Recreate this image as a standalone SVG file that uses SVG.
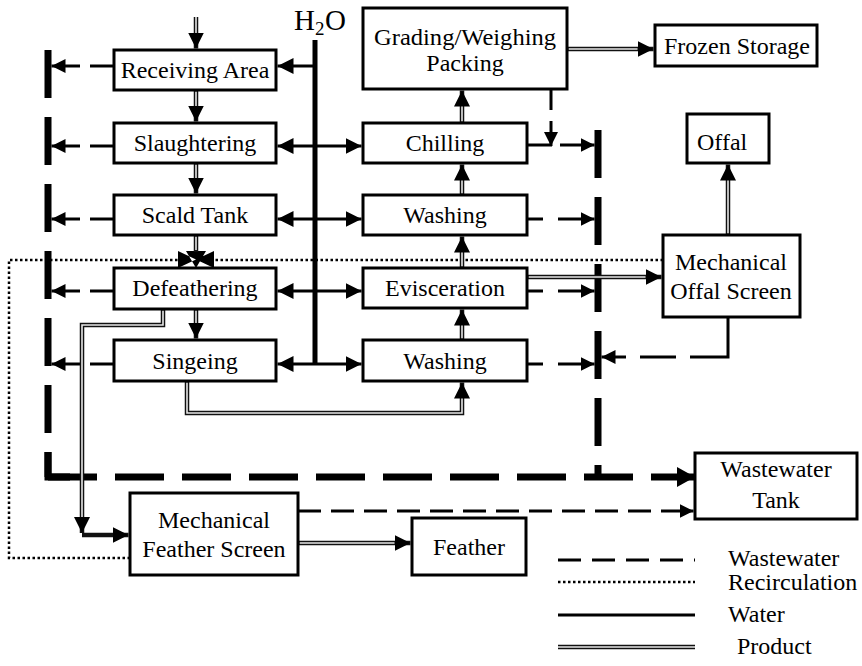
<svg xmlns="http://www.w3.org/2000/svg" width="862" height="666" viewBox="0 0 862 666">
  <style>
    .box { fill: #fff; stroke: #000; stroke-width: 3; }
    .c { text-anchor: middle; }
    .po { fill: none; stroke: #111; stroke-width: 4.5; }
    .pi { fill: none; stroke: #e8e8e8; stroke-width: 1.6; }
    .w { fill: none; stroke: #000; stroke-width: 3; }
    .ww { fill: none; stroke: #000; stroke-width: 3; }
    .wwd { fill: none; stroke: #000; stroke-width: 3; stroke-dasharray: 23 10; }
    .bar { fill: none; stroke: #000; stroke-width: 7; stroke-dasharray: 48 19; }
    .barh { fill: none; stroke: #000; stroke-width: 7; stroke-dasharray: 49 18; }
    .rc { fill: none; stroke: #000; stroke-width: 2.5; stroke-dasharray: 2.5 2.5; }
  </style>
  <defs>
    <marker id="ah" markerUnits="userSpaceOnUse" viewBox="0 0 16 16" markerWidth="16" markerHeight="16" refX="16" refY="8" orient="auto-start-reverse">
      <path d="M0,0L16,8L0,16z" fill="#000"/>
    </marker>
    <marker id="ahs" markerUnits="userSpaceOnUse" viewBox="0 0 14 14" markerWidth="14" markerHeight="14" refX="14" refY="7" orient="auto-start-reverse">
      <path d="M0,0L14,7L0,14z" fill="#000"/>
    </marker>
    <marker id="ahb" markerUnits="userSpaceOnUse" viewBox="0 0 18 20" markerWidth="18" markerHeight="20" refX="18" refY="10" orient="auto">
      <path d="M0,0L18,10L0,20z" fill="#000"/>
    </marker>
  </defs>

  <!-- connectors -->
  <g id="connectors">
    <!-- recirculation (dotted) -->
    <path class="rc" d="M130,558 H9 V260 H178"/>
    <path class="rc" d="M663,260 H214"/>
    <path d="M186,251 L206,251 L196,268 Z M178,251 L178,268 L196,259.5 Z M214,251 L214,268 L196,259.5 Z" fill="#000"/>

    <!-- main wastewater collectors -->
    <path class="bar" d="M48,50 V477"/>
    <path d="M48,452 V477 H70" fill="none" stroke="#000" stroke-width="7"/>
    <path class="barh" d="M48,477 H695" marker-end="url(#ahb)"/>
    <path class="bar" d="M598,130 V477"/>

    <!-- wastewater from process steps, left side -->
    <path class="ww" d="M114,66 H90"/><path class="ww" d="M80,66 H51.5" marker-end="url(#ahs)"/>
    <path class="ww" d="M114,146 H90"/><path class="ww" d="M80,146 H51.5" marker-end="url(#ahs)"/>
    <path class="ww" d="M114,219 H90"/><path class="ww" d="M80,219 H51.5" marker-end="url(#ahs)"/>
    <path class="ww" d="M114,291 H90"/><path class="ww" d="M80,291 H51.5" marker-end="url(#ahs)"/>
    <path class="ww" d="M114,364 H90"/><path class="ww" d="M80,364 H51.5" marker-end="url(#ahs)"/>

    <!-- wastewater from process steps, right side -->
    <path class="ww" d="M527,145 H552"/><path class="ww" d="M560,145 H594.5" marker-end="url(#ahs)"/>
    <path class="ww" d="M551,89 V110"/><path class="ww" d="M551,121 V146" marker-end="url(#ahs)"/>
    <path class="ww" d="M527,219 H543"/><path class="ww" d="M558,219 H594.5" marker-end="url(#ahs)"/>
    <path class="ww" d="M527,291 H543"/><path class="ww" d="M558,291 H594.5" marker-end="url(#ahs)"/>
    <path class="ww" d="M527,364 H543"/><path class="ww" d="M558,364 H594.5" marker-end="url(#ahs)"/>
    <path class="ww" d="M728,317 V357 H690"/><path class="ww" d="M676,357 H640"/><path class="ww" d="M626,357 H601.5" marker-end="url(#ahs)"/>
    <path class="wwd" d="M298,511 H693.5"/>
    <path class="ww" d="M680,511 H693.5" marker-end="url(#ahs)"/>

    <!-- water supply -->
    <path d="M315,40 V364" fill="none" stroke="#000" stroke-width="5"/>
    <path class="w" d="M315,66 H277.5" marker-end="url(#ah)"/>
    <path class="w" d="M277.5,146 H361.5" marker-start="url(#ah)" marker-end="url(#ah)"/>
    <path class="w" d="M277.5,219 H361.5" marker-start="url(#ah)" marker-end="url(#ah)"/>
    <path class="w" d="M277.5,291 H361.5" marker-start="url(#ah)" marker-end="url(#ah)"/>
    <path class="w" d="M277.5,364 H361.5" marker-start="url(#ah)" marker-end="url(#ah)"/>

    <!-- product flow (double line) -->
    <path class="po" d="M196,17 V48.5" marker-end="url(#ah)"/>
    <path class="po" d="M196,90 V121.5" marker-end="url(#ah)"/>
    <path class="po" d="M196,163 V193.5" marker-end="url(#ah)"/>
    <path class="po" d="M196,235 V252"/>
    <path class="po" d="M196,309 V338.5" marker-end="url(#ah)"/>
    <path class="po" d="M163,309 V325 H82 V533" marker-end="url(#ah)"/>
    <path class="po" d="M82,535 H128.5" marker-end="url(#ah)"/>
    <path class="po" d="M298,543 H410.5" marker-end="url(#ah)"/>
    <path class="po" d="M187,381 V413 H462 V382.5" marker-end="url(#ah)"/>
    <path class="po" d="M462,340 V309.5" marker-end="url(#ah)"/>
    <path class="po" d="M462,268 V236.5" marker-end="url(#ah)"/>
    <path class="po" d="M462,195 V164.5" marker-end="url(#ah)"/>
    <path class="po" d="M462,123 V90.5" marker-end="url(#ah)"/>
    <path class="po" d="M567,49 H653.5" marker-end="url(#ah)"/>
    <path class="po" d="M527,277 H661.5" marker-end="url(#ah)"/>
    <path class="po" d="M728,235 V164.5" marker-end="url(#ah)"/>

    <path class="pi" d="M196,17 V33"/>
    <path class="pi" d="M196,91.5 V106"/>
    <path class="pi" d="M196,164.5 V178"/>
    <path class="pi" d="M196,236.5 V250"/>
    <path class="pi" d="M196,310.5 V323"/>
    <path class="pi" d="M163,310.5 V325 H82 V517"/>
    <path class="pi" d="M299.5,543 H394.5"/>
    <path class="pi" d="M187,382.5 V413 H462 V398.5"/>
    <path class="pi" d="M462,338.5 V325.5"/>
    <path class="pi" d="M462,266.5 V252.5"/>
    <path class="pi" d="M462,193.5 V180.5"/>
    <path class="pi" d="M462,121.5 V106.5"/>
    <path class="pi" d="M568.5,49 H637.5"/>
    <path class="pi" d="M528.5,277 H645.5"/>
    <path class="pi" d="M728,233.5 V180.5"/>
  </g>

  <!-- water label -->
  <text x="294" y="30" font-family="Liberation Serif" font-size="29">H<tspan x="315" y="35" font-size="19">2</tspan><tspan x="325" y="30" font-size="29">O</tspan></text>

  <!-- process nodes -->
  <g id="receiving-area"><rect class="box" x="114" y="50" width="162" height="40"/><text class="c" x="195" y="78" font-family="Liberation Serif" font-size="24">Receiving Area</text></g>
  <g id="slaughtering"><rect class="box" x="114" y="123" width="162" height="40"/><text class="c" x="195" y="151" font-family="Liberation Serif" font-size="24">Slaughtering</text></g>
  <g id="scald-tank"><rect class="box" x="114" y="195" width="162" height="40"/><text class="c" x="195" y="223" font-family="Liberation Serif" font-size="24">Scald Tank</text></g>
  <g id="defeathering"><rect class="box" x="114" y="268" width="162" height="41"/><text class="c" x="195" y="296" font-family="Liberation Serif" font-size="24">Defeathering</text></g>
  <g id="singeing"><rect class="box" x="114" y="340" width="162" height="41"/><text class="c" x="195" y="369" font-family="Liberation Serif" font-size="24">Singeing</text></g>

  <g id="grading-packing"><rect class="box" x="363" y="8" width="204" height="81"/><text class="c" x="465" y="45" font-family="Liberation Serif" font-size="24" textLength="182" lengthAdjust="spacingAndGlyphs">Grading/Weighing</text><text class="c" x="465" y="71" font-family="Liberation Serif" font-size="24">Packing</text></g>
  <g id="chilling"><rect class="box" x="363" y="123" width="164" height="40"/><text class="c" x="445" y="151" font-family="Liberation Serif" font-size="24">Chilling</text></g>
  <g id="washing-1"><rect class="box" x="363" y="195" width="164" height="40"/><text class="c" x="445" y="223" font-family="Liberation Serif" font-size="24">Washing</text></g>
  <g id="evisceration"><rect class="box" x="363" y="268" width="164" height="40"/><text class="c" x="445" y="296" font-family="Liberation Serif" font-size="24">Evisceration</text></g>
  <g id="washing-2"><rect class="box" x="363" y="340" width="164" height="41"/><text class="c" x="445" y="369" font-family="Liberation Serif" font-size="24">Washing</text></g>

  <g id="frozen-storage"><rect class="box" x="655" y="25" width="162" height="41"/><text class="c" x="737" y="54" font-family="Liberation Serif" font-size="24">Frozen Storage</text></g>
  <g id="offal"><rect class="box" x="687" y="114" width="82" height="49"/><text x="697" y="150" font-family="Liberation Serif" font-size="24">Offal</text></g>
  <g id="offal-screen"><rect class="box" x="663" y="235" width="137" height="82"/><text class="c" x="731" y="270" font-family="Liberation Serif" font-size="24">Mechanical</text><text class="c" x="731" y="299" font-family="Liberation Serif" font-size="24">Offal Screen</text></g>
  <g id="wastewater-tank"><rect class="box" x="695" y="453" width="162" height="66"/><text class="c" x="776" y="477" font-family="Liberation Serif" font-size="24">Wastewater</text><text class="c" x="776" y="508" font-family="Liberation Serif" font-size="24">Tank</text></g>
  <g id="feather-screen"><rect class="box" x="130" y="493" width="168" height="82"/><text class="c" x="214" y="528" font-family="Liberation Serif" font-size="24">Mechanical</text><text class="c" x="214" y="557" font-family="Liberation Serif" font-size="24">Feather Screen</text></g>
  <g id="feather"><rect class="box" x="412" y="518" width="114" height="57"/><text class="c" x="469" y="555" font-family="Liberation Serif" font-size="24">Feather</text></g>

  <!-- legend -->
  <g id="legend">
    <path class="ww" d="M558,560 H695" stroke-dasharray="23 11"/>
    <path class="rc" d="M558,582 H695"/>
    <path class="w" d="M558,615 H695"/>
    <path class="po" d="M558,647 H695"/>
    <path class="pi" d="M558,647 H695"/>
    <text x="728" y="566" font-family="Liberation Serif" font-size="24">Wastewater</text>
    <text x="728" y="590" font-family="Liberation Serif" font-size="24">Recirculation</text>
    <text x="728" y="622" font-family="Liberation Serif" font-size="24">Water</text>
    <text x="737" y="654" font-family="Liberation Serif" font-size="24">Product</text>
  </g>
</svg>
